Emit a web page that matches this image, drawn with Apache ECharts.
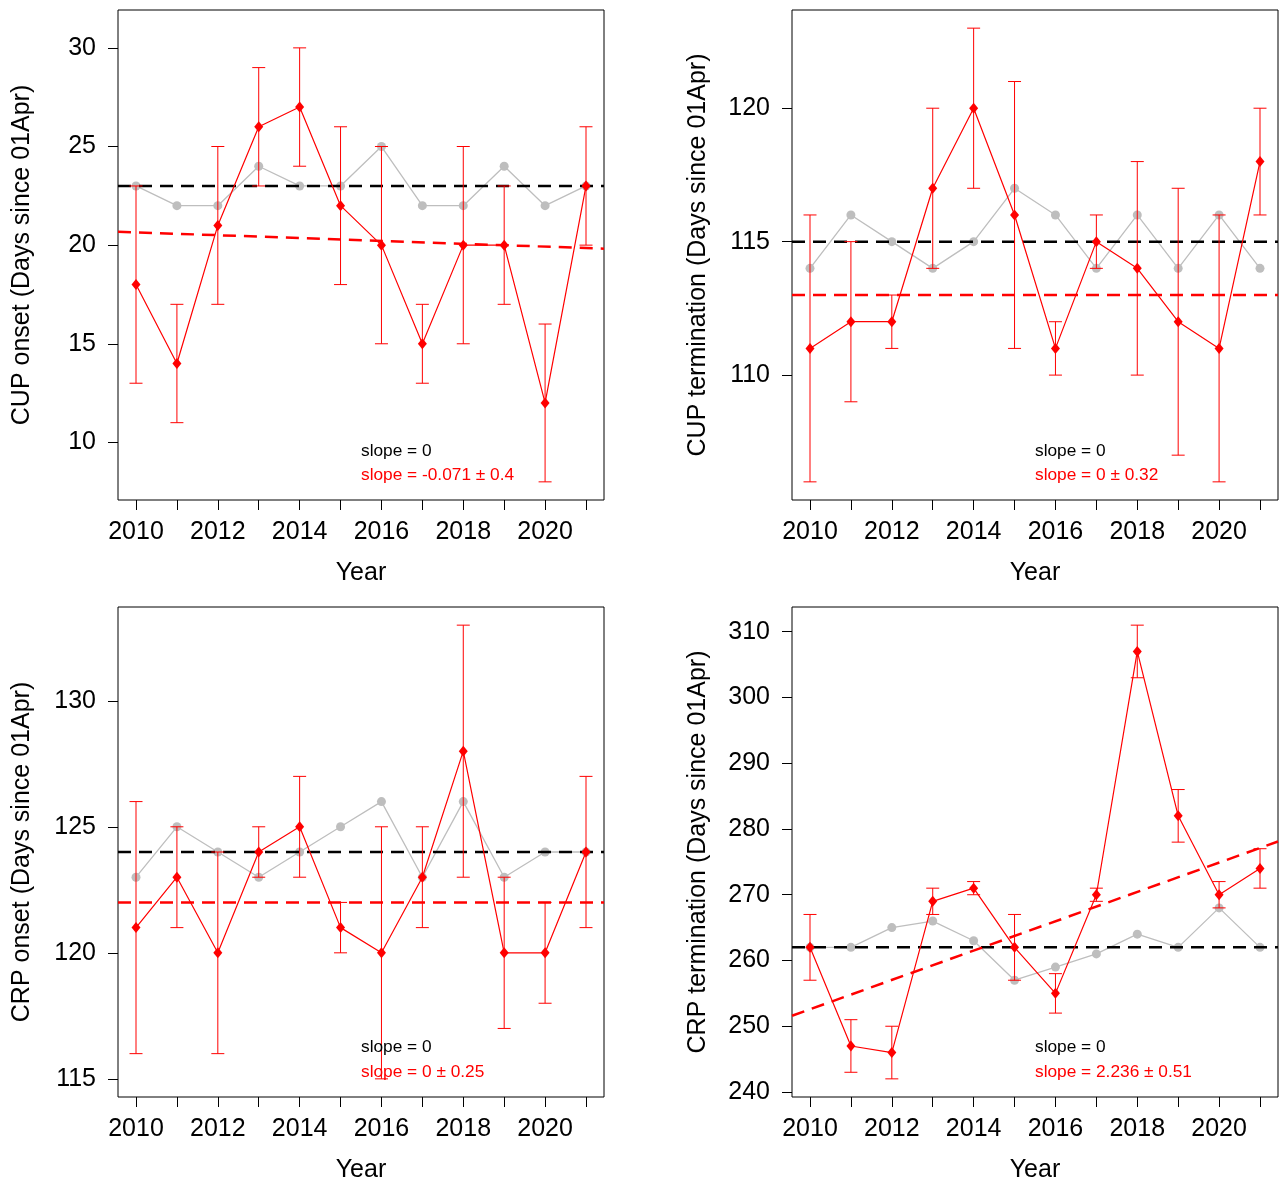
<!DOCTYPE html>
<html>
<head>
<meta charset="utf-8">
<script src="https://cdn.jsdelivr.net/npm/echarts@6/dist/echarts.min.js"></script>
<style>
html,body{margin:0;padding:0;background:#ffffff;}
#chart{width:1279px;height:1185px;}
</style>
</head>
<body>
<div id="chart"></div>
<script>
// ---------------- DATA ----------------
const years = [2010, 2011, 2012, 2013, 2014, 2015, 2016, 2017, 2018, 2019, 2020, 2021];
const xLabelYears = [2010, 2012, 2014, 2016, 2018, 2020];

// CUP onset
const cupOnsetGray = [23, 22, 22, 24, 23, 23, 25, 22, 22, 24, 22, 23];
const cupOnsetRed  = [18, 14, 21, 26, 27, 22, 20, 15, 20, 20, 12, 23];
const cupOnsetLow  = [13, 11, 17, 23, 24, 18, 15, 13, 15, 17, 8, 20];
const cupOnsetHigh = [23, 17, 25, 29, 30, 26, 25, 17, 25, 23, 16, 26];
const cupOnsetMean = 23;
const cupOnsetTrend = [20.68, 19.82];
const cupOnsetTicks = [10, 15, 20, 25, 30];
const cupOnsetText = ['slope = 0', 'slope = -0.071 \u00b1 0.4'];

// CUP termination
const cupTermGray = [114, 116, 115, 114, 115, 117, 116, 114, 116, 114, 116, 114];
const cupTermRed  = [111, 112, 112, 117, 120, 116, 111, 115, 114, 112, 111, 118];
const cupTermLow  = [106, 109, 111, 114, 117, 111, 110, 114, 110, 107, 106, 116];
const cupTermHigh = [116, 115, 113, 120, 123, 121, 112, 116, 118, 117, 116, 120];
const cupTermMean = 115;
const cupTermTrend = [113, 113];
const cupTermTicks = [110, 115, 120];
const cupTermText = ['slope = 0', 'slope = 0 \u00b1 0.32'];

// CRP onset
const crpOnsetGray = [123, 125, 124, 123, 124, 125, 126, 123, 126, 123, 124, 124];
const crpOnsetRed  = [121, 123, 120, 124, 125, 121, 120, 123, 128, 120, 120, 124];
const crpOnsetLow  = [116, 121, 116, 123, 123, 120, 115, 121, 123, 117, 118, 121];
const crpOnsetHigh = [126, 125, 124, 125, 127, 122, 125, 125, 133, 123, 122, 127];
const crpOnsetMean = 124;
const crpOnsetTrend = [122, 122];
const crpOnsetTicks = [115, 120, 125, 130];
const crpOnsetText = ['slope = 0', 'slope = 0 \u00b1 0.25'];

// CRP termination
const crpTermGray = [262, 262, 265, 266, 263, 257, 259, 261, 264, 262, 268, 262];
const crpTermRed  = [262, 247, 246, 269, 271, 262, 255, 270, 307, 282, 270, 274];
const crpTermLow  = [257, 243, 242, 267, 270, 257, 252, 269, 303, 278, 268, 271];
const crpTermHigh = [267, 251, 250, 271, 272, 267, 258, 271, 311, 286, 272, 277];
const crpTermMean = 262;
const crpTermTrend = [251.6, 278.1];
const crpTermTicks = [240, 250, 260, 270, 280, 290, 300, 310];
const crpTermText = ['slope = 0', 'slope = 2.236 \u00b1 0.51'];

const yNames = [
  'CUP onset (Days since 01Apr)',
  'CUP termination (Days since 01Apr)',
  'CRP onset (Days since 01Apr)',
  'CRP termination (Days since 01Apr)'
];
const xName = 'Year';

// ---------------- LAYOUT / STYLE ----------------
const FONT = '"Liberation Sans", Arial, Helvetica, sans-serif';
const RED = '#ff0000';
const GRAY = '#bebebe';
const X_MIN = 2009.56, X_MAX = 2021.44;

const panels = [
  {gray: cupOnsetGray, red: cupOnsetRed, low: cupOnsetLow, high: cupOnsetHigh, mean: cupOnsetMean, trend: cupOnsetTrend, ticks: cupOnsetTicks, text: cupOnsetText,
   grid: {left: 118, top: 10, width: 486, height: 490}, ymin: 7.08, ymax: 31.92, nameGap: 83, textPos: [361, 451.7, 475.7]},
  {gray: cupTermGray, red: cupTermRed, low: cupTermLow, high: cupTermHigh, mean: cupTermMean, trend: cupTermTrend, ticks: cupTermTicks, text: cupTermText,
   grid: {left: 792, top: 10, width: 486, height: 490}, ymin: 105.32, ymax: 123.68, nameGap: 81, textPos: [1035, 451.7, 475.7]},
  {gray: crpOnsetGray, red: crpOnsetRed, low: crpOnsetLow, high: crpOnsetHigh, mean: crpOnsetMean, trend: crpOnsetTrend, ticks: crpOnsetTicks, text: crpOnsetText,
   grid: {left: 118, top: 607, width: 486, height: 490}, ymin: 114.28, ymax: 133.72, nameGap: 83, textPos: [361, 1047.7, 1072.3]},
  {gray: crpTermGray, red: crpTermRed, low: crpTermLow, high: crpTermHigh, mean: crpTermMean, trend: crpTermTrend, ticks: crpTermTicks, text: crpTermText,
   grid: {left: 792, top: 607, width: 486, height: 490}, ymin: 239.24, ymax: 313.76, nameGap: 81, textPos: [1035, 1047.7, 1072.3]}
];

const grids = [], xAxes = [], yAxes = [], series = [], graphics = [];

panels.forEach((p, i) => {
  grids.push(Object.assign({show: true, borderColor: '#000', borderWidth: 1, backgroundColor: 'transparent', containLabel: false}, p.grid));
  xAxes.push({
    type: 'value', gridIndex: i, min: X_MIN, max: X_MAX,
    name: xName, nameLocation: 'middle', nameGap: 61,
    nameTextStyle: {fontFamily: FONT, fontSize: 25, color: '#000'},
    axisLine: {show: false},
    splitLine: {show: false},
    axisTick: {show: true, inside: false, length: 10, lineStyle: {color: '#000', width: 1}, customValues: years},
    axisLabel: {show: true, margin: 20, fontFamily: FONT, fontSize: 25, color: '#000', customValues: xLabelYears, formatter: v => String(v)}
  });
  yAxes.push({
    type: 'value', gridIndex: i, min: p.ymin, max: p.ymax,
    name: yNames[i], nameLocation: 'middle', nameGap: p.nameGap, nameRotate: 90,
    nameTextStyle: {fontFamily: FONT, fontSize: 25, color: '#000'},
    axisLine: {show: false},
    splitLine: {show: false},
    axisTick: {show: true, inside: false, length: 10, lineStyle: {color: '#000', width: 1}, customValues: p.ticks},
    axisLabel: {show: true, margin: 22, fontFamily: FONT, fontSize: 25, color: '#000', customValues: p.ticks, formatter: v => String(v)}
  });

  // gray series
  series.push({
    type: 'line', xAxisIndex: i, yAxisIndex: i,
    data: years.map((y, k) => [y, p.gray[k]]),
    symbol: 'circle', symbolSize: 9, showSymbol: true,
    lineStyle: {color: GRAY, width: 1.3}, itemStyle: {color: GRAY},
    z: 2, silent: true
  });
  // black mean dashed line
  series.push({
    type: 'line', xAxisIndex: i, yAxisIndex: i,
    data: [[X_MIN, p.mean], [X_MAX, p.mean]],
    symbol: 'none', lineStyle: {color: '#000', width: 2.5, type: [13, 8]},
    z: 3, silent: true
  });
  // red trend dashed line
  series.push({
    type: 'line', xAxisIndex: i, yAxisIndex: i,
    data: [[X_MIN, p.trend[0]], [X_MAX, p.trend[1]]],
    symbol: 'none', lineStyle: {color: RED, width: 2.5, type: [13, 8]},
    z: 3, silent: true
  });
  // error bars
  series.push({
    type: 'custom', xAxisIndex: i, yAxisIndex: i,
    data: years.map((y, k) => [y, p.low[k], p.high[k]]),
    encode: {x: 0, y: [1, 2]},
    renderItem: function (params, api) {
      const x = api.value(0);
      const lo = api.coord([x, api.value(1)]);
      const hi = api.coord([x, api.value(2)]);
      const w = 6.5;
      const st = {stroke: RED, lineWidth: 1};
      return {
        type: 'group',
        children: [
          {type: 'line', shape: {x1: lo[0], y1: lo[1], x2: hi[0], y2: hi[1]}, style: st},
          {type: 'line', shape: {x1: lo[0] - w, y1: lo[1], x2: lo[0] + w, y2: lo[1]}, style: st},
          {type: 'line', shape: {x1: hi[0] - w, y1: hi[1], x2: hi[0] + w, y2: hi[1]}, style: st}
        ]
      };
    },
    z: 4, silent: true
  });
  // red series
  series.push({
    type: 'line', xAxisIndex: i, yAxisIndex: i,
    data: years.map((y, k) => [y, p.red[k]]),
    symbol: 'diamond', symbolSize: [9, 11], showSymbol: true,
    lineStyle: {color: RED, width: 1.2}, itemStyle: {color: RED},
    z: 5, silent: true
  });

  graphics.push({
    type: 'text', x: p.textPos[0], y: p.textPos[1],
    style: {text: p.text[0], fill: '#000', font: '17.3px ' + FONT, verticalAlign: 'middle', align: 'left'}, z: 10
  });
  graphics.push({
    type: 'text', x: p.textPos[0], y: p.textPos[2],
    style: {text: p.text[1], fill: RED, font: '17.3px ' + FONT, verticalAlign: 'middle', align: 'left'}, z: 10
  });
});

const chart = echarts.init(document.getElementById('chart'), null, {renderer: 'canvas'});
chart.setOption({
  animation: false,
  backgroundColor: '#ffffff',
  grid: grids,
  xAxis: xAxes,
  yAxis: yAxes,
  series: series,
  graphic: graphics
});
</script>
</body>
</html>
